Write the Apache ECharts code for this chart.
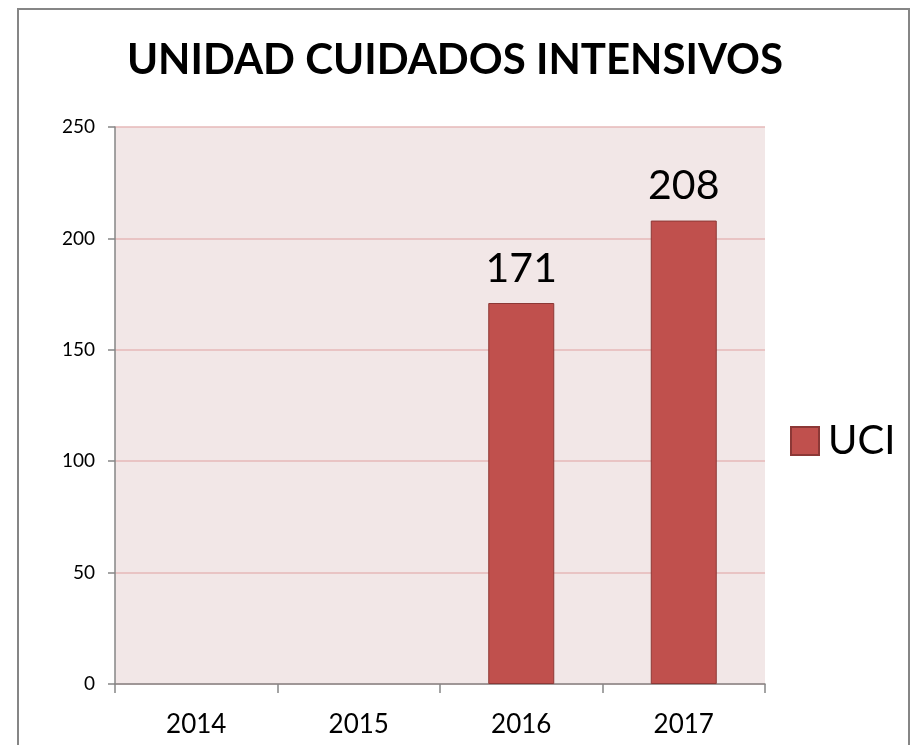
<!DOCTYPE html>
<html>
<head>
<meta charset="utf-8">
<script src="https://cdn.jsdelivr.net/npm/echarts@6/dist/echarts.min.js"></script>
<style>
  html, body { margin: 0; padding: 0; background: #fff; }
  #frame { position: absolute; left: 17px; top: 8px; width: 889px; height: 760px; border: 2px solid #868686; }
  #chart { position: absolute; left: 0; top: 0; width: 915px; height: 745px; }
</style>
</head>
<body>
<div id="frame"></div>
<div id="chart"></div>
<script>
var years = ['2014', '2015', '2016', '2017'];
var uciValues = [null, null, 171, 208];
var yTicks = [0, 50, 100, 150, 200, 250];

var chart = echarts.init(document.getElementById('chart'));
var font = 'Lato, "Open Sans", sans-serif';

var option = {
    textStyle: { fontFamily: font },
    title: {
        text: 'UNIDAD CUIDADOS INTENSIVOS',
        left: 450,
        textAlign: 'center',
        top: 34,
        textStyle: { fontSize: 42, fontWeight: 'bold', color: '#000', fontFamily: font }
    },
    legend: {
        data: ['UCI'],
        left: 785,
        top: 416,
        orient: 'vertical',
        icon: 'rect',
        itemWidth: 28,
        itemHeight: 28,
        itemGap: 10,
        textStyle: { fontSize: 40, color: '#000', fontFamily: font, padding: [0, 0, 0, 4] }
    },
    grid: { left: 115, top: 127, right: 150, bottom: 61, backgroundColor: '#F2E7E7', show: true, borderWidth: 0 },
    xAxis: {
        type: 'category',
        data: years,
        axisLine: { lineStyle: { color: '#868686', width: 1.5 } },
        axisTick: { show: true, length: 9, lineStyle: { color: '#868686', width: 1.5 } },
        axisLabel: { fontSize: 26, color: '#000', margin: 28, fontFamily: font }
    },
    yAxis: {
        type: 'value',
        min: yTicks[0],
        max: yTicks[yTicks.length - 1],
        interval: 50,
        axisLine: { show: true, lineStyle: { color: '#868686', width: 1.5 } },
        axisTick: { show: true, length: 7, lineStyle: { color: '#868686', width: 1.5 } },
        axisLabel: { fontSize: 19, color: '#000', margin: 20, fontFamily: font },
        splitLine: { lineStyle: { color: '#E6B9B8', width: 1.5 } }
    },
    series: [{
        name: 'UCI',
        type: 'bar',
        data: uciValues,
        barWidth: 66,
        itemStyle: { color: '#C0504D', borderColor: '#8C3836', borderWidth: 1 },
        label: {
            show: true,
            position: 'top',
            distance: 14,
            fontSize: 41,
            color: '#000',
            fontFamily: font
        }
    }]
};
chart.setOption(option);
</script>
</body>
</html>
